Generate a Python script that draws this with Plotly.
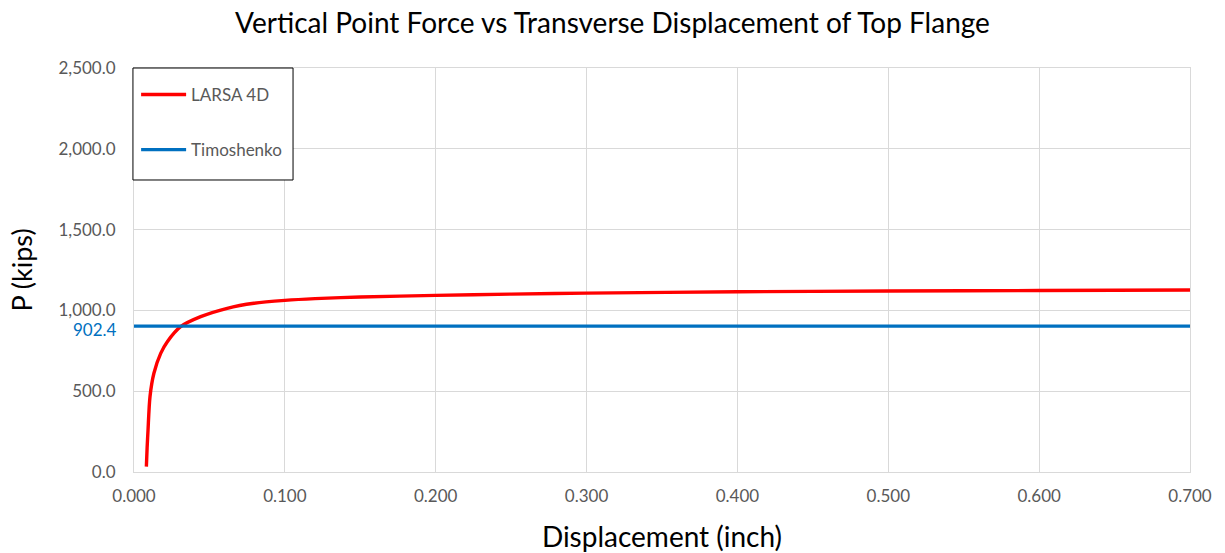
import plotly.graph_objects as go

# LARSA 4D load-displacement response
larsa_disp = [0.0082, 0.0087, 0.0093, 0.0106, 0.0132, 0.0177, 0.0221, 0.0309, 0.0442,
              0.0618, 0.0795, 0.1000, 0.1200, 0.1500, 0.2000, 0.2500, 0.3000, 0.4000,
              0.5000, 0.6000, 0.7000]
larsa_force = [33, 150, 260, 466, 611, 734, 806, 899, 961,
               1013, 1044, 1062, 1073, 1083, 1093, 1101, 1107, 1115,
               1120, 1123, 1126]

# Timoshenko critical load (constant)
timo_force = 902.4
timo_disp = [0.0, 0.7]

x_ticks = [0.0, 0.1, 0.2, 0.3, 0.4, 0.5, 0.6, 0.7]
y_ticks = [0, 500, 1000, 1500, 2000, 2500]

FONT = "Lato, Open Sans, sans-serif"
GRID = "#d9d9d9"
TICK_COLOR = "#595959"

fig = go.Figure()
fig.add_trace(go.Scatter(
    x=larsa_disp, y=larsa_force, mode="lines", name="LARSA 4D",
    line=dict(color="#ff0000", width=3.4, shape="spline", smoothing=0.8),
    legendgroup="a",
))
fig.add_trace(go.Scatter(
    x=timo_disp, y=[timo_force] * len(timo_disp), mode="lines", name="Timoshenko",
    line=dict(color="#0070c0", width=3.4),
    legendgroup="b",
))

# value label for the Timoshenko load beside the y axis
fig.add_annotation(
    xref="paper", yref="y", x=0, y=timo_force, xanchor="right", yanchor="middle",
    xshift=-15, yshift=-3, text=f"{timo_force:.1f}", showarrow=False,
    font=dict(family=FONT, size=17, color="#0070c0"),
)

# framed box behind the legend
fig.add_shape(
    type="rect", xref="paper", yref="paper",
    x0=-0.001, x1=0.1506, y0=0.7228, y1=1.0,
    line=dict(color="#000000", width=1), fillcolor="white", layer="above",
)

fig.update_layout(
    width=1225, height=553,
    margin=dict(l=134, r=35, t=68, b=81, autoexpand=False),
    paper_bgcolor="white", plot_bgcolor="white",
    title=dict(text="Vertical Point Force vs Transverse Displacement of Top Flange",
               x=0.5, xanchor="center", y=0.958, yanchor="middle",
               font=dict(family=FONT, size=28, color="#000000")),
    showlegend=True,
    legend=dict(
        x=0.002, y=0.9777, xanchor="left", yanchor="top",
        bgcolor="rgba(0,0,0,0)", borderwidth=0,
        font=dict(family=FONT, size=17, color=TICK_COLOR),
        tracegroupgap=30, itemwidth=45,
    ),
    xaxis=dict(
        range=[0, 0.7], tickvals=x_ticks, tickformat=".3f",
        showgrid=True, gridcolor=GRID, gridwidth=1,
        showline=True, linecolor=GRID, linewidth=1, mirror=True,
        zeroline=False, ticks="", ticklabelstandoff=9, automargin=False,
        tickfont=dict(family=FONT, size=17, color=TICK_COLOR),
        title=dict(text="Displacement (inch)", standoff=25,
                   font=dict(family=FONT, size=28, color="#000000")),
    ),
    yaxis=dict(
        range=[0, 2500], tickvals=y_ticks, tickformat=",.1f",
        showgrid=True, gridcolor=GRID, gridwidth=1,
        showline=True, linecolor=GRID, linewidth=1, mirror=True,
        zeroline=False, ticks="", ticklabelstandoff=14, automargin=False,
        tickfont=dict(family=FONT, size=17, color=TICK_COLOR),
        title=dict(text="P (kips)", standoff=17,
                   font=dict(family=FONT, size=27, color="#000000")),
    ),
)

fig.write_html("out.html")
